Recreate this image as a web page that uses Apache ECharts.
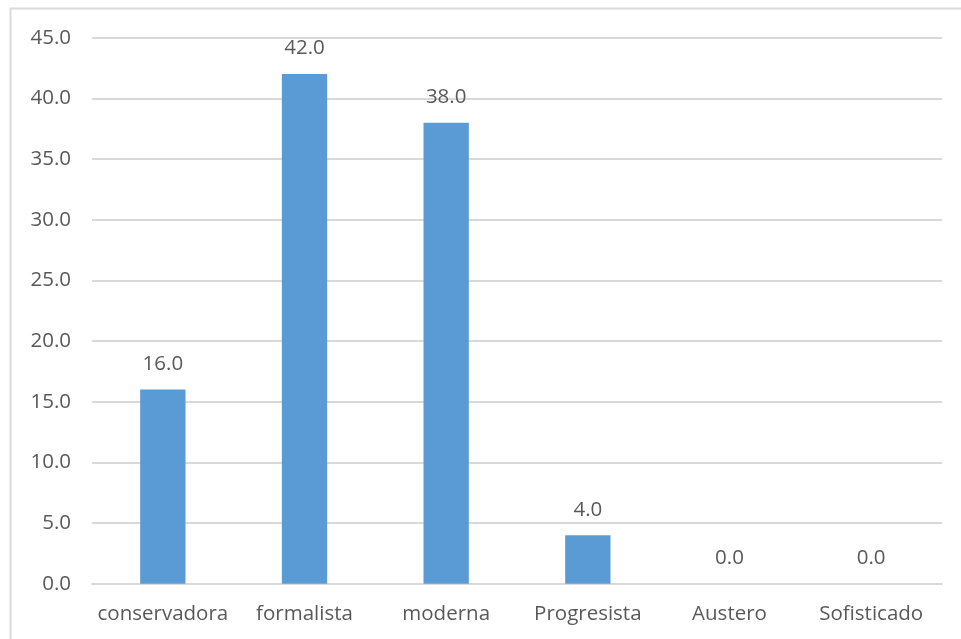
<!DOCTYPE html>
<html>
<head>
<meta charset="utf-8">
<script src="https://cdn.jsdelivr.net/npm/echarts@6/dist/echarts.min.js"></script>
<style>
  html, body { margin: 0; padding: 0; background: #ffffff; }
  #chart { width: 961px; height: 639px; }
</style>
</head>
<body>
<div id="chart"></div>
<script>
// Categories and percentages per style
const categories = ['conservadora', 'formalista', 'moderna', 'Progresista', 'Austero', 'Sofisticado'];
const values = [16.0, 42.0, 38.0, 4.0, 0.0, 0.0];

const FONT = '"Open Sans", "Noto Sans", sans-serif';
const TEXT = '#595959';
const GRID = '#d9d9d9';
const FS = 20.5;

const chart = echarts.init(document.getElementById('chart'), null, { renderer: 'canvas' });

chart.setOption({
  animation: false,
  backgroundColor: '#ffffff',
  textStyle: { fontFamily: FONT },
  graphic: [{
    type: 'polyline',
    shape: { points: [[10.5, 645], [10.5, 8.5], [970, 8.5]] },
    style: { stroke: GRID, lineWidth: 2, fill: null },
    silent: true
  }],
  grid: { left: 92, right: 19, top: 37.7, bottom: 55.3, containLabel: false },
  xAxis: {
    type: 'category',
    data: categories,
    axisLine: { show: true, lineStyle: { color: GRID, width: 2 } },
    axisTick: { show: false },
    axisLabel: {
      color: TEXT, fontSize: FS, fontFamily: FONT, margin: 20,
      interval: 0, hideOverlap: false
    }
  },
  yAxis: {
    type: 'value',
    min: 0,
    max: 45,
    interval: 5,
    axisLine: { show: false },
    axisTick: { show: false },
    splitLine: { lineStyle: { color: GRID, width: 2 } },
    axisLabel: {
      color: TEXT, fontSize: FS, fontFamily: FONT, margin: 21,
      formatter: v => v.toFixed(1)
    }
  },
  series: [{
    type: 'bar',
    data: values,
    barWidth: '32%',
    itemStyle: { color: '#5b9bd5' },
    label: {
      show: true,
      position: 'top',
      distance: 15,
      color: TEXT,
      fontSize: FS,
      fontFamily: FONT,
      formatter: p => p.value.toFixed(1)
    }
  }]
});
</script>
</body>
</html>
